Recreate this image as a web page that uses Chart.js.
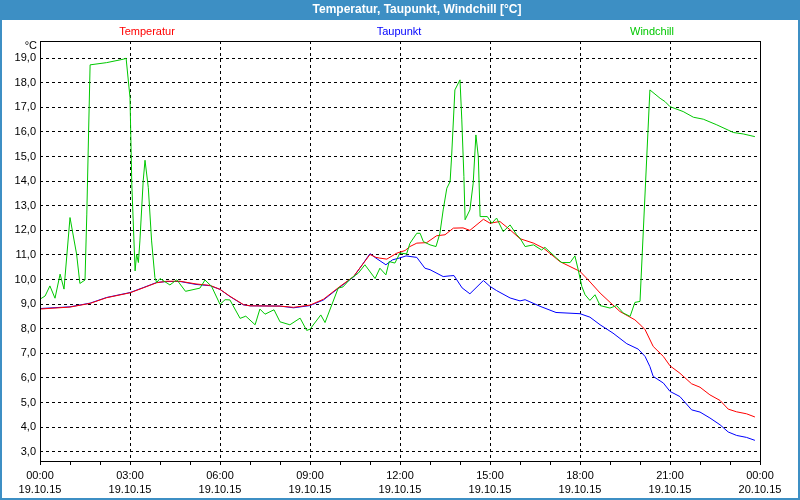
<!DOCTYPE html>
<html>
<head>
<meta charset="utf-8">
<script src="https://cdn.jsdelivr.net/npm/chart.js@4.4.1/dist/chart.umd.min.js"></script>
<style>
  html, body { margin: 0; padding: 0; background: #ffffff; }
  #chart { display: block; }
</style>
</head>
<body>
<canvas id="chart" width="800" height="500"></canvas>
<script>
// Texts and tick labels
const chartTitle = "Temperatur, Taupunkt, Windchill [°C]";
const unitLabel = "°C";
const seriesNames = ["Temperatur", "Taupunkt", "Windchill"];
const seriesColors = ["#ff0000", "#0000ff", "#00c800"];
const legendX = [147, 399, 652];

const yTicks = [3, 4, 5, 6, 7, 8, 9, 10, 11, 12, 13, 14, 15, 16, 17, 18, 19];
const xTickHours = [0, 3, 6, 9, 12, 15, 18, 21, 24];
const xTickLabels = [
  ["00:00", "19.10.15"], ["03:00", "19.10.15"], ["06:00", "19.10.15"],
  ["09:00", "19.10.15"], ["12:00", "19.10.15"], ["15:00", "19.10.15"],
  ["18:00", "19.10.15"], ["21:00", "19.10.15"], ["00:00", "20.10.15"]
];

// Temperatur (hours since 19.10.15 00:00, °C)
const tempHours = [0, 1, 1.67, 2.22, 3, 3.44, 3.89, 4.23, 4.67, 5.2, 5.67, 6, 6.33, 6.78, 7, 8, 8.45, 9, 9.45, 10,
  10.45, 11, 11.2, 11.33, 11.56, 11.89, 12.17, 12.33, 12.56, 12.89, 13.22, 13.5, 13.78, 14.1, 14.33, 14.78, 15, 15.33, 15.67, 16,
  16.45, 16.78, 17.33, 18, 18.27, 18.67, 19.33, 19.83, 20.06, 20.17, 20.44, 20.78, 21, 21.33, 21.72, 22, 22.33, 22.67, 22.94, 23.22,
  23.55, 23.83];
const tempValues = [8.8, 8.88, 9.03, 9.26, 9.46, 9.66, 9.87, 9.93, 9.93, 9.82, 9.76, 9.6, 9.32, 8.98, 8.93, 8.92, 8.87, 8.96, 9.2, 9.72,
  10.12, 11.02, 10.9, 10.87, 10.83, 11.07, 11.18, 11.34, 11.48, 11.5, 11.78, 11.82, 12.09, 12.1, 12.0, 12.45, 12.29, 12.36, 12.02, 11.66,
  11.48, 11.28, 10.73, 10.33, 9.99, 9.45, 8.7, 8.36, 8.1, 7.96, 7.28, 6.87, 6.49, 6.19, 5.76, 5.62, 5.31, 5.08, 4.73, 4.62,
  4.54, 4.41];

// Taupunkt
const dewHours = [0, 1, 1.67, 2.22, 3, 3.44, 3.89, 4.23, 4.67, 5.2, 5.67, 6, 6.33, 6.78, 7, 8, 8.45, 9, 9.45, 10,
  10.45, 11, 11.2, 11.53, 11.75, 12, 12.2, 12.56, 12.83, 13, 13.44, 13.67, 13.8, 14.07, 14.33, 14.78, 15, 15.22, 15.67, 16,
  16.17, 16.67, 17.2, 18, 18.33, 18.67, 19.1, 19.56, 19.94, 20.17, 20.33, 20.44, 20.78, 21, 21.33, 21.72, 22, 22.33, 22.67, 22.94,
  23.22, 23.55, 23.83];
const dewValues = [8.82, 8.89, 9.04, 9.27, 9.47, 9.67, 9.88, 9.92, 9.92, 9.8, 9.75, 9.6, 9.31, 8.97, 8.93, 8.92, 8.85, 8.94, 9.17, 9.7,
  10.1, 11.05, 10.87, 10.6, 10.8, 10.88, 10.96, 10.9, 10.46, 10.4, 10.12, 10.15, 10.16, 9.66, 9.42, 9.96, 9.72, 9.55, 9.25, 9.13,
  9.18, 8.91, 8.66, 8.61, 8.47, 8.16, 7.82, 7.39, 7.17, 6.87, 6.46, 6.06, 5.79, 5.45, 5.24, 4.7, 4.61, 4.37, 4.09, 3.8,
  3.66, 3.58, 3.46];

// Windchill
const windHours = [0, 0.17, 0.33, 0.5, 0.67, 0.8, 1, 1.22, 1.33, 1.5, 1.56, 1.62, 1.67, 2.22, 2.78, 2.87, 3, 3.06, 3.17, 3.22,
  3.28, 3.33, 3.44, 3.5, 3.61, 3.72, 3.83, 3.89, 4, 4.33, 4.56, 4.85, 5.33, 5.5, 5.72, 6, 6.17, 6.33, 6.67, 6.86,
  7.17, 7.33, 7.5, 7.8, 8, 8.33, 8.67, 8.89, 9, 9.36, 9.5, 9.94, 10.1, 10.33, 10.61, 10.83, 11.17, 11.33, 11.53, 11.64,
  11.83, 12, 12.22, 12.33, 12.56, 12.67, 12.78, 13, 13.2, 13.33, 13.44, 13.56, 13.67, 13.72, 13.83, 14, 14.06, 14.13, 14.17, 14.33,
  14.44, 14.53, 14.61, 14.67, 14.91, 15.06, 15.22, 15.44, 15.67, 15.89, 16, 16.17, 16.45, 16.72, 16.83, 17.22, 17.39, 17.67, 17.83, 17.94,
  18.06, 18.17, 18.33, 18.5, 18.67, 19, 19.22, 19.44, 19.67, 19.83, 20, 20.33, 20.67, 20.83, 21, 21.44, 21.78, 22.11, 22.56, 23.11,
  23.44, 23.83];
const windValues = [9.2, 9.33, 9.74, 9.24, 10.22, 9.61, 12.52, 11.03, 9.84, 9.98, 12.66, 16.0, 18.73, 18.82, 18.96, 19.0, 17.4, 13.88, 10.35, 11.03,
  10.69, 11.57, 14.01, 14.85, 13.74, 11.57, 10.08, 9.88, 10.04, 9.78, 9.99, 9.52, 9.65, 9.98, 9.72, 8.99, 9.18, 9.17, 8.42, 8.51,
  8.16, 8.8, 8.59, 8.77, 8.28, 8.16, 8.43, 7.93, 7.98, 8.56, 8.25, 9.65, 9.7, 10.01, 10.26, 10.6, 10.04, 10.46, 10.19, 10.73,
  10.67, 11.08, 11.04, 11.47, 11.88, 11.88, 11.54, 11.41, 11.34, 11.88, 12.83, 13.71, 13.98, 15.0, 17.71, 18.12, 16.49, 14.19, 12.43, 12.83,
  13.92, 15.88, 15.0, 12.56, 12.56, 12.29, 12.5, 11.95, 12.22, 11.82, 11.68, 11.34, 11.41, 11.2, 11.31, 10.87, 10.69, 10.69, 10.96, 10.4,
  9.72, 9.38, 9.15, 9.38, 8.94, 8.84, 8.94, 8.64, 8.5, 9.07, 9.11, 17.71, 17.37, 17.24, 17.03, 16.83, 16.6, 16.52, 16.29, 15.98,
  15.92, 15.81];

const toPoints = (hours, values) => hours.map((h, i) => ({ x: h, y: values[i] }));

Chart.defaults.font.family = "'Liberation Sans', Arial, sans-serif";
Chart.defaults.font.size = 11;
Chart.defaults.color = "#000000";

// title bar, outer frame, plot box, legend texts
const framePlugin = {
  id: "frame",
  beforeDraw(chart) {
    const ctx = chart.ctx;
    ctx.save();
    ctx.fillStyle = "#ffffff";
    ctx.fillRect(0, 0, chart.width, chart.height);
    ctx.fillStyle = "#3d8fc4";
    ctx.fillRect(0, 0, chart.width, 20);
    ctx.fillRect(0, 0, 2, chart.height);
    ctx.fillRect(chart.width - 2, 0, 2, chart.height);
    ctx.fillRect(0, chart.height - 2, chart.width, 2);
    ctx.restore();
  },
  afterDraw(chart) {
    const ctx = chart.ctx;
    const a = chart.chartArea;
    ctx.save();
    ctx.strokeStyle = "#000000";
    ctx.lineWidth = 1;
    ctx.strokeRect(Math.round(a.left) + 0.5, Math.round(a.top) + 0.5,
      Math.round(a.right - a.left), Math.round(a.bottom - a.top));

    ctx.textBaseline = "middle";
    ctx.textAlign = "center";
    ctx.fillStyle = "#ffffff";
    ctx.font = "bold 12px 'Liberation Sans', Arial, sans-serif";
    ctx.fillText(chartTitle, 417, 10);

    ctx.font = "11px 'Liberation Sans', Arial, sans-serif";
    seriesNames.forEach((name, i) => {
      ctx.fillStyle = seriesColors[i];
      ctx.fillText(name, legendX[i], 32);
    });

    ctx.textAlign = "right";
    ctx.fillStyle = "#000000";
    ctx.fillText(unitLabel, 37, 46);
    ctx.restore();
  }
};

const makeSet = (i, hours, values) => ({
  label: seriesNames[i],
  data: toPoints(hours, values),
  borderColor: seriesColors[i],
  backgroundColor: seriesColors[i],
  borderWidth: 1,
  pointRadius: 0,
  tension: 0,
  fill: false
});

new Chart(document.getElementById("chart"), {
  type: "line",
  data: {
    datasets: [
      makeSet(2, windHours, windValues),
      makeSet(0, tempHours, tempValues),
      makeSet(1, dewHours, dewValues)
    ]
  },
  plugins: [framePlugin],
  options: {
    responsive: false,
    animation: false,
    devicePixelRatio: 1,
    layout: { padding: { top: 41, right: 40, left: 0, bottom: 0 } },
    plugins: {
      legend: { display: false },
      title: { display: false },
      tooltip: { enabled: false }
    },
    scales: {
      x: {
        type: "linear",
        min: 0,
        max: 24,
        afterBuildTicks(scale) {
          const t = [];
          for (let h = 0; h <= 24; h++) t.push({ value: h });
          scale.ticks = t;
        },
        afterFit(scale) { scale.height = 39; },
        border: { display: false, dash: [3, 3] },
        grid: {
          color: (c) => (c.tick && c.tick.value % 3 === 0) ? "#000000" : "rgba(0,0,0,0)",
          tickColor: "#000000",
          tickLength: 4,
          lineWidth: 1
        },
        ticks: {
          autoSkip: false,
          maxRotation: 0,
          padding: 3,
          font: { size: 11, lineHeight: 1.36 },
          callback: (v) => {
            const idx = xTickHours.indexOf(v);
            return idx >= 0 ? xTickLabels[idx] : "";
          }
        }
      },
      y: {
        min: 2.62,
        max: 19.7,
        afterBuildTicks(scale) {
          scale.ticks = yTicks.map(v => ({ value: v }));
        },
        afterFit(scale) { scale.width = 40; },
        border: { display: false, dash: [3, 3] },
        grid: { color: "#000000", drawTicks: false, lineWidth: 1 },
        ticks: {
          padding: 4,
          callback: (v) => v.toFixed(1).replace(".", ",")
        }
      }
    }
  }
});
</script>
</body>
</html>
